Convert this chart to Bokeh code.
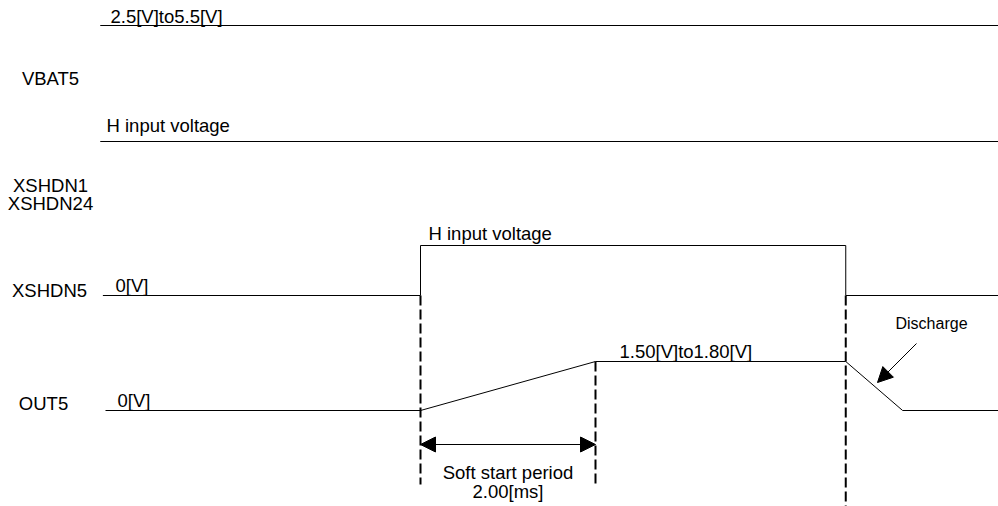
from bokeh.plotting import figure
from bokeh.models import Range1d, Arrow, NormalHead
from bokeh.embed import file_html
from bokeh.resources import INLINE
from bokeh.core.properties import value

FONT = "Liberation Sans"
FS = "18.5px"
FS_SMALL = "16px"

# ---- time axis (ms); 0 = XSHDN5 rising edge (soft start begins) ----
PX_PER_MS = 87.5
T0_PX = 420.0
t_on = 0.00
t_ss = 2.00          # soft start period 2.00 ms
t_off = 4.86
t_dis = 5.51
t_end = 6.60
t_start_vbat = -3.66
t_start_xshdn124 = -3.66
t_start_xshdn5 = -3.63
t_start_out5 = -3.60

# ---- vertical positions of levels (diagram units, growing downward) ----
vbat_y = 25
xshdn124_y = 141
xshdn5_low, xshdn5_high = 295, 245
out5_low, out5_high = 410, 361

# ---- waveforms ----
vbat_t = [t_start_vbat, t_end]
vbat_v = [vbat_y, vbat_y]
xshdn124_t = [t_start_xshdn124, t_end]
xshdn124_v = [xshdn124_y, xshdn124_y]
xshdn5_t = [t_start_xshdn5, t_on, t_on, t_off, t_off, t_end]
xshdn5_v = [xshdn5_low, xshdn5_low, xshdn5_high, xshdn5_high, xshdn5_low, xshdn5_low]
out5_t = [t_start_out5, t_on, t_ss, t_off, t_dis, t_end]
out5_v = [out5_low, out5_low, out5_high, out5_high, out5_low, out5_low]

# ---- dashed timing markers ----
mark_t = [t_on, t_ss, t_off]
mark_top = [xshdn5_low, out5_high, xshdn5_low]
mark_bot = [484, 484, 506]

# ---- texts (y = vertical middle of the text) ----
sig_names = ["VBAT5", "XSHDN1", "XSHDN24", "XSHDN5", "OUT5"]
sig_x_px = [50, 50, 50, 49, 43]
sig_y = [78, 185, 203, 290, 403]

lvl_texts = ["2.5[V]to5.5[V]", "H input voltage", "0[V]", "H input voltage", "0[V]", "1.50[V]to1.80[V]"]
lvl_x_px = [110, 106, 115, 428, 117, 619]
lvl_y = [16, 125, 285, 233, 400, 351]

dis_text = ["Discharge"]
dis_x_px = [895]
dis_y = [323]
dis_arrow_px = (916, 343, 877, 382)

ss_texts = ["Soft start period", "2.00[ms]"]
ss_y = [472, 491]
ss_arrow_y = 444


def t_of(px):
    return (px - T0_PX) / PX_PER_MS


W, H = 998, 506
p = figure(width=W, height=H, output_backend="svg", toolbar_location=None,
           x_range=Range1d(t_of(0), t_of(W)), y_range=Range1d(H, 0),
           min_border=0, outline_line_color=None)
p.axis.visible = False
p.grid.visible = False
p.background_fill_color = "white"
p.border_fill_color = "white"

lc = "black"
p.line(vbat_t, vbat_v, line_color=lc, line_width=1)
p.line(xshdn124_t, xshdn124_v, line_color=lc, line_width=1)
p.line(xshdn5_t, xshdn5_v, line_color=lc, line_width=1)
p.line(out5_t, out5_v, line_color=lc, line_width=1)

p.segment(x0=mark_t, y0=mark_top, x1=mark_t, y1=mark_bot,
          line_color=lc, line_width=2, line_dash="10 4")

p.text(x=[t_of(v) for v in sig_x_px], y=sig_y, text=sig_names,
       text_font=value(FONT), text_font_size=FS, text_align="center",
       text_baseline="middle", text_color="black")
p.text(x=[t_of(v) for v in lvl_x_px], y=lvl_y, text=lvl_texts,
       text_font=value(FONT), text_font_size=FS, text_align="left",
       text_baseline="middle", text_color="black")
p.text(x=[t_of(v) for v in dis_x_px], y=dis_y, text=dis_text,
       text_font=value(FONT), text_font_size=FS_SMALL, text_align="left",
       text_baseline="middle", text_color="black")
p.text(x=[(t_on + t_ss) / 2] * 2, y=ss_y, text=ss_texts,
       text_font=value(FONT), text_font_size=FS, text_align="center",
       text_baseline="middle", text_color="black")

p.add_layout(Arrow(x_start=t_on, y_start=ss_arrow_y, x_end=t_ss, y_end=ss_arrow_y,
                   line_color=lc, line_width=1,
                   start=NormalHead(size=15, fill_color=lc, line_color=lc),
                   end=NormalHead(size=15, fill_color=lc, line_color=lc)))
x0, y0, x1, y1 = dis_arrow_px
p.add_layout(Arrow(x_start=t_of(x0), y_start=y0, x_end=t_of(x1), y_end=y1,
                   line_color=lc, line_width=1,
                   end=NormalHead(size=15, fill_color=lc, line_color=lc)))

open("out.html", "w").write(file_html(p, INLINE))
